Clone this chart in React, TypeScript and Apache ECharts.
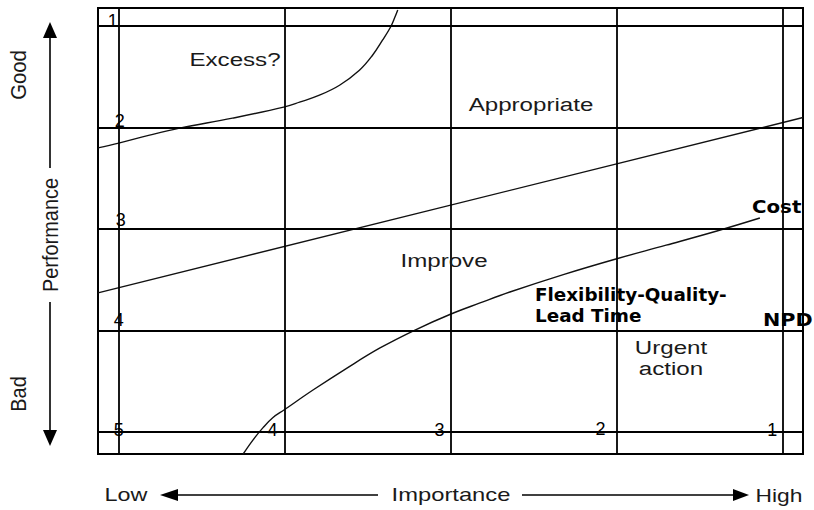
import React, { useEffect, useRef } from 'react';
import * as echarts from 'echarts';

// Axis ticks (Importance runs 5 -> 1 from left to right, Performance 1 -> 5 from top to bottom)
const importanceValues = [5, 4, 3, 2, 1];
const importanceTicks = ['5', '4', '3', '2', '1'];
const performanceValues = [1, 2, 3, 4, 5];
const performanceTicks = ['1', '2', '3', '4', '5'];

// Boundary curves, [importance, performance]
const excessCurve: [number, number][] = [
  [5.125, 2.2], [5.0, 2.153], [4.814, 2.074], [4.633, 2.005], [4.314, 1.907],
  [4.006, 1.798], [3.91, 1.749], [3.79, 1.68], [3.669, 1.582], [3.549, 1.434],
  [3.47, 1.286], [3.41, 1.138], [3.362, 1.01], [3.338, 0.922], [3.318, 0.84],
];
const improveLine: [number, number][] = [[5.125, 3.63], [0.875, 1.9]];
const urgentCurve: [number, number][] = [
  [4.25, 5.22], [4.19, 5.08], [4.13, 4.96], [4.07, 4.86], [4.004, 4.786],
  [3.829, 4.589], [3.624, 4.372], [3.425, 4.174], [3.214, 3.997], [2.997, 3.839],
  [2.822, 3.73], [2.642, 3.622], [2.32, 3.45], [2.003, 3.296], [1.7, 3.16],
  [1.394, 3.02], [1.135, 2.892],
];

// per-label nudges (pixels) for tick labels drawn inside the grid
const perfLabelOffsets = [[-6, -5], [1, -7], [2, -9], [0, -10], [0, -2]];
const impLabelOffsets = [[-12, -2], [-11, -2], [-16, -3], [-10, -2]];

const SANS = '"Liberation Sans", Arial, sans-serif';
const BOLD = '"DejaVu Sans", sans-serif';

function txt(text: string, x: number, y: number, o: any = {}) {
  const align = o.align ?? 'center';
  return {
    type: 'text',
    x,
    y,
    rotation: o.rot ?? 0,
    scaleX: o.sx ?? 1.27,
    scaleY: o.sy ?? 1,
    silent: true,
    z: 20,
    style: {
      text,
      fill: o.fill ?? '#1a1a1a',
      font: `${o.weight ?? 'normal'} ${o.size ?? 19}px ${o.family ?? SANS}`,
      textAlign: align,
      align,
      textVerticalAlign: 'middle',
      verticalAlign: 'middle',
    },
  };
}

function ln(x1: number, y1: number, x2: number, y2: number) {
  return {
    type: 'line',
    silent: true,
    shape: { x1, y1, x2, y2 },
    style: { stroke: '#000', lineWidth: 1.6 },
  };
}

function head(points: number[][]) {
  return { type: 'polygon', silent: true, shape: { points }, style: { fill: '#000' } };
}

export default function App() {
  const ref = useRef<HTMLDivElement>(null);
  useEffect(() => {
    if (!ref.current) return;
    const chart = echarts.init(ref.current, undefined, { renderer: 'svg' });
    const curveStyle = { color: '#111', width: 1.4 };
    const perfLabels = performanceValues.map((v, i) => ({
      name: performanceTicks[i],
      value: [importanceValues[0], v],
      label: { offset: perfLabelOffsets[i] },
    }));
    const impLabels = importanceValues.slice(1).map((v, i) => ({
      name: importanceTicks[i + 1],
      value: [v, performanceValues[performanceValues.length - 1]],
      label: { offset: impLabelOffsets[i] },
    }));
    chart.setOption({
      animation: false,
      backgroundColor: '#fff',
      grid: {
        show: true,
        left: 98,
        top: 8,
        width: 705,
        height: 446,
        borderColor: '#000',
        borderWidth: 2,
        backgroundColor: '#fff',
      },
      xAxis: { type: 'value', min: 0.875, max: 5.125, inverse: true, show: false },
      yAxis: { type: 'value', min: 0.82, max: 5.22, inverse: true, show: false },
      series: [
        {
          type: 'line',
          data: [[5, 1]],
          showSymbol: false,
          symbol: 'none',
          lineStyle: { opacity: 0 },
          silent: true,
          markLine: {
            silent: true,
            symbol: ['none', 'none'],
            label: { show: false },
            lineStyle: { color: '#000', width: 1.8, type: 'solid' },
            data: [
              ...importanceValues.map((v) => ({ xAxis: v })),
              ...performanceValues.map((v) => ({ yAxis: v })),
            ],
          },
        },
        { type: 'line', data: excessCurve, smooth: 0.4, symbol: 'none', lineStyle: curveStyle, silent: true },
        { type: 'line', data: improveLine, symbol: 'none', lineStyle: curveStyle, silent: true },
        { type: 'line', data: urgentCurve, smooth: 0.4, symbol: 'none', lineStyle: curveStyle, silent: true },
        {
          type: 'scatter',
          data: [...perfLabels, ...impLabels],
          symbolSize: 1,
          itemStyle: { color: '#fff', opacity: 0 },
          silent: true,
          z: 10,
          label: {
            show: true,
            position: 'inside',
            formatter: '{b}',
            color: '#000',
            opacity: 1,
            textBorderWidth: 0,
            fontSize: 18,
            fontFamily: SANS,
          },
        },
      ],
      graphic: [
        // region labels
        txt('Excess?', 235, 59),
        txt('Appropriate', 531, 104),
        txt('Improve', 444, 260),
        txt('Urgent', 671, 347),
        txt('action', 671, 368),
        // factor labels
        txt('Flexibility-Quality-', 535, 295, { align: 'left', weight: 'bold', size: 18, family: BOLD, fill: '#000', sx: 1.02 }),
        txt('Lead Time', 535, 316, { align: 'left', weight: 'bold', size: 18, family: BOLD, fill: '#000', sx: 1.02 }),
        txt('Cost', 752, 206, { align: 'left', weight: 'bold', size: 18, family: BOLD, fill: '#000', sx: 1.1 }),
        txt('NPD', 763, 320, { align: 'left', weight: 'bold', size: 18, family: BOLD, fill: '#000', sx: 1.15 }),
        // vertical axis title
        txt('Good', 18, 75, { rot: Math.PI / 2, sx: 1.07, sy: 1.15 }),
        txt('Performance', 50, 235, { rot: Math.PI / 2, sx: 1.05, sy: 1.15 }),
        txt('Bad', 18, 394, { rot: Math.PI / 2, sx: 1.05, sy: 1.15 }),
        ln(50, 36, 50, 168),
        head([[50, 22], [43, 38], [57, 38]]),
        ln(50, 302, 50, 432),
        head([[50, 446], [43, 430], [57, 430]]),
        // horizontal axis title
        txt('Low', 126, 495, { sx: 1.23 }),
        txt('Importance', 451, 495, { sx: 1.25 }),
        txt('High', 779, 495, { sx: 1.2 }),
        ln(176, 495, 378, 495),
        head([[160, 495], [178, 489], [178, 501]]),
        ln(522, 495, 735, 495),
        head([[749, 495], [733, 489], [733, 501]]),
      ],
    });
    return () => chart.dispose();
  }, []);
  return (
    <div
      ref={ref}
      style={{ position: 'fixed', left: 0, top: 0, width: 814, height: 510, background: '#fff' }}
    />
  );
}
